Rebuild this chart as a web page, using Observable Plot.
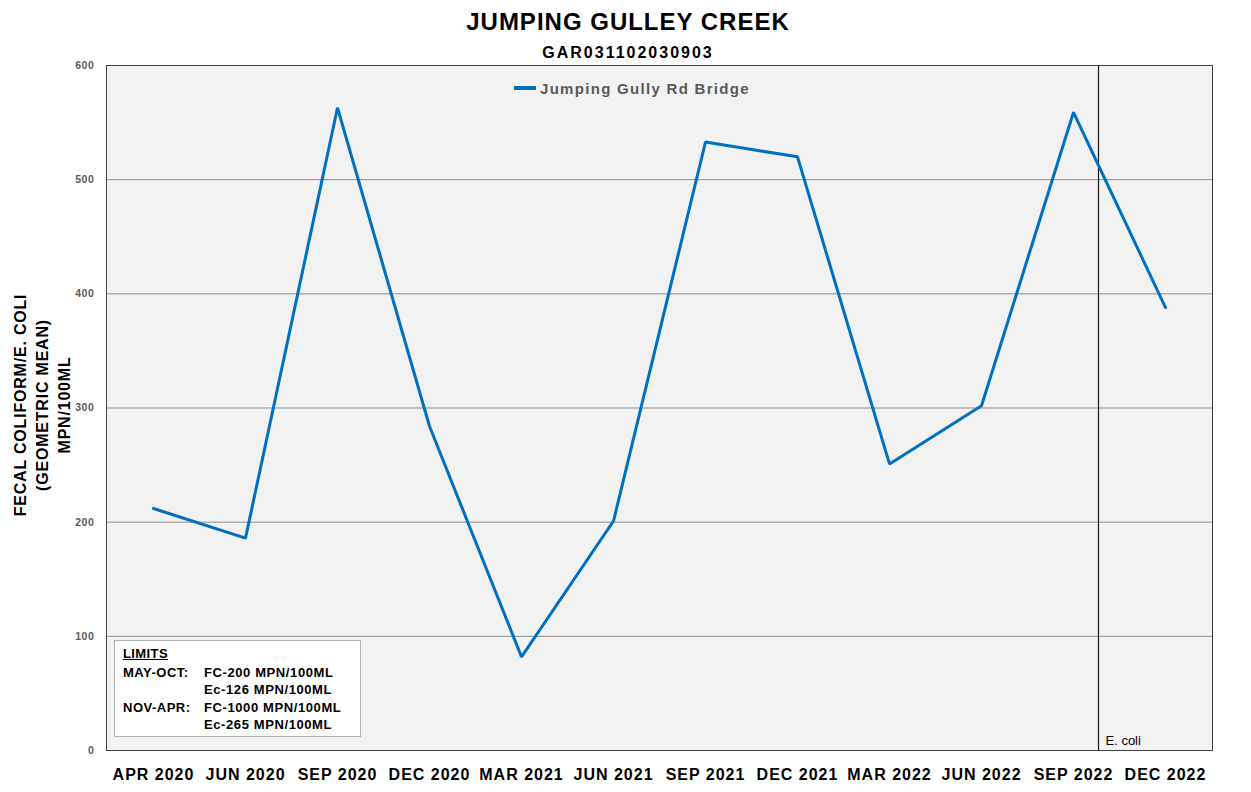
<!DOCTYPE html>
<html>
<head>
<meta charset="utf-8">
<script src="https://cdn.jsdelivr.net/npm/d3@7"></script>
<script src="https://cdn.jsdelivr.net/npm/@observablehq/plot@0.6"></script>
<style>
  html, body { margin: 0; padding: 0; background: #ffffff; }
  #wrap { position: relative; width: 1251px; height: 792px; font-family: "Liberation Sans", Arial, sans-serif; overflow: hidden; }
  #wrap svg { position: absolute; left: 0; top: 0; }
  .ov { position: absolute; white-space: nowrap; font-weight: bold; }
  g[aria-label="x-axis tick label"] text { letter-spacing: 1px; }
  g[aria-label="y-axis tick label"] text { letter-spacing: 0.6px; }
</style>
</head>
<body>
<div id="wrap"></div>
<script>
// ---- data ----
const months = ["APR 2020", "JUN 2020", "SEP 2020", "DEC 2020", "MAR 2021", "JUN 2021",
                "SEP 2021", "DEC 2021", "MAR 2022", "JUN 2022", "SEP 2022", "DEC 2022"];
const values = [212, 186, 563, 284, 82, 201, 533, 520, 251, 302, 559, 388];
const seriesName = "Jumping Gully Rd Bridge";
const yTicks = [0, 100, 200, 300, 400, 500, 600];
const eColiStart = ["SEP 2022"];
const title = "JUMPING GULLEY CREEK";
const subtitle = "GAR031102030903";
const yTitle = ["FECAL COLIFORM/E. COLI", "(GEOMETRIC MEAN)", "MPN/100ML"];
const limitsRows = [["MAY-OCT:", "FC-200 MPN/100ML"], ["", "Ec-126 MPN/100ML"],
                    ["NOV-APR:", "FC-1000 MPN/100ML"], ["", "Ec-265 MPN/100ML"]];

const rows = months.map((m, i) => ({month: m, value: values[i]}));

const chart = Plot.plot({
  width: 1251,
  height: 792,
  marginTop: 65,
  marginBottom: 42,
  marginLeft: 106,
  marginRight: 39,
  style: {fontFamily: "'Liberation Sans', Arial, sans-serif", background: "transparent", overflow: "visible"},
  x: {type: "point", domain: months, padding: 0.5, label: null},
  y: {domain: [0, 600], label: null},
  marks: [
    Plot.frame({fill: "#f2f2f2", stroke: null}),
    Plot.ruleY(yTicks.filter(d => d > 0 && d < 600), {stroke: "#8c8c8c", strokeWidth: 1}),
    Plot.ruleX(eColiStart, {dx: 25, stroke: "#1a1a1a", strokeWidth: 1.2}),
    Plot.line(rows, {x: "month", y: "value", stroke: "#0070c0", strokeWidth: 3, strokeLinejoin: "miter"}),
    Plot.frame({stroke: "#404040", strokeWidth: 1}),
    Plot.axisY(yTicks, {tickSize: 0, tickPadding: 12, fontWeight: "bold", fontSize: 10.5, color: "#595959", label: null}),
    Plot.axisX({tickSize: 0, tickPadding: 18, fontWeight: "bold", fontSize: 16, color: "#000000", label: null}),
    Plot.text(eColiStart, {x: d => d, y: [0], dx: 32, dy: -10, text: () => "E. coli", textAnchor: "start", fontSize: 13, fill: "#000000"})
  ]
});

const wrap = document.getElementById("wrap");
wrap.appendChild(chart);

function ov(text, css) {
  const d = document.createElement("div");
  d.className = "ov";
  d.textContent = text;
  Object.assign(d.style, css);
  wrap.appendChild(d);
  return d;
}

// title & subtitle
ov(title, {left: "628px", top: "22px", transform: "translate(-50%,-50%)", fontSize: "24px", letterSpacing: "1px", color: "#000"});
ov(subtitle, {left: "628px", top: "53px", transform: "translate(-50%,-50%)", fontSize: "16px", letterSpacing: "2px", color: "#000"});

// legend
const leg = document.createElement("div");
Object.assign(leg.style, {position: "absolute", left: "514px", top: "79px", height: "18px", display: "flex", alignItems: "center"});
const sw = document.createElement("div");
Object.assign(sw.style, {width: "22px", height: "3.5px", background: "#0070c0", marginRight: "4px"});
const lt = document.createElement("div");
lt.textContent = seriesName;
Object.assign(lt.style, {fontWeight: "bold", fontSize: "15px", color: "#595959", letterSpacing: "1.3px", whiteSpace: "nowrap"});
leg.appendChild(sw); leg.appendChild(lt);
wrap.appendChild(leg);

// y axis title (rotated)
const yCenters = [20.5, 43, 65];
yTitle.forEach((t, i) => {
  ov(t, {left: yCenters[i] + "px", top: "405px", transform: "translate(-50%,-50%) rotate(-90deg)", fontSize: "16px", letterSpacing: "0.8px", color: "#000"});
});

// limits box
const box = document.createElement("div");
Object.assign(box.style, {position: "absolute", left: "114px", top: "640px", width: "247px", height: "97px",
  background: "#ffffff", border: "1px solid #b0b0b0", boxSizing: "border-box"});
wrap.appendChild(box);
ov("LIMITS", {left: "123px", top: "646px", fontSize: "13px", letterSpacing: "0.4px", textDecoration: "underline", color: "#000"});
limitsRows.forEach((r, i) => {
  const top = 665 + i * 17.3;
  if (r[0]) ov(r[0], {left: "123px", top: top + "px", fontSize: "13px", letterSpacing: "0.5px", color: "#000"});
  ov(r[1], {left: "204px", top: top + "px", fontSize: "13px", letterSpacing: "0.6px", color: "#000"});
});
</script>
</body>
</html>
